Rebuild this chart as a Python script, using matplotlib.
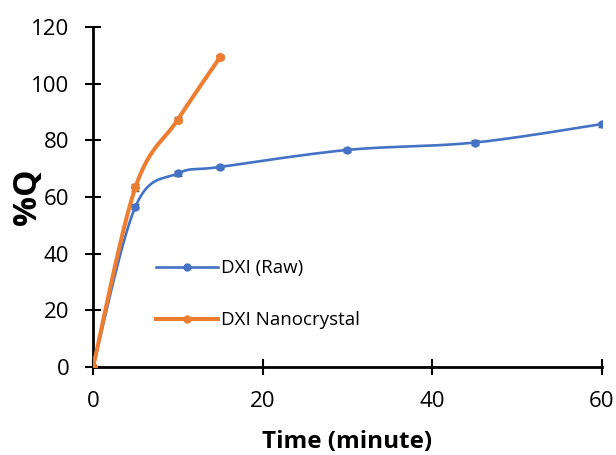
import numpy as np
import matplotlib
matplotlib.use("Agg")
import matplotlib.pyplot as plt

# release data
time_raw = [0, 5, 10, 15, 30, 45, 60]
q_raw = [0, 56.6, 68.3, 70.6, 76.6, 79.2, 85.7]
err_raw = [0, 1.0, 0.8, 0.7, 0.6, 0.8, 0.9]

time_nano = [0, 5, 10, 15]
q_nano = [0, 63.4, 87.3, 109.4]
err_nano = [0, 1.2, 0.9, 0.8]

plt.rcParams['font.family'] = ['Open Sans', 'DejaVu Sans']

fig = plt.figure(figsize=(6.16, 4.55), dpi=100)
ax = fig.add_axes([0.151, 0.193, 0.826, 0.748])
ax.set_xlim(0, 60)
ax.set_ylim(0, 120)

# pixel scale used for the excel-like smoothing
sx = 509 / 60.0
sy = 340 / 120.0


def smooth(xs, ys, n=30):
    """Excel-style smoothed line (cardinal bezier through the points)"""
    p = np.column_stack([np.array(xs) * sx, np.array(ys) * sy])
    out = [p[0]]
    for i in range(len(p) - 1):
        p0 = p[i - 1] if i > 0 else p[i]
        p1 = p[i]
        p2 = p[i + 1]
        p3 = p[i + 2] if i + 2 < len(p) else p[i + 1]
        c1 = p1 + (p2 - p0) / 6.0
        c2 = p2 - (p3 - p1) / 6.0
        t = np.linspace(0, 1, n)[1:, None]
        seg = ((1 - t) ** 3) * p1 + 3 * ((1 - t) ** 2) * t * c1 + 3 * (1 - t) * t ** 2 * c2 + t ** 3 * p2
        out.extend(seg)
    out = np.array(out)
    return out[:, 0] / sx, out[:, 1] / sy


blue = '#4472C4'
orange = '#ED7D31'

bx, by = smooth(time_raw, q_raw)
ax.plot(bx, by, color=blue, lw=1.9, zorder=3, solid_capstyle='round')
ax.errorbar(time_raw, q_raw, yerr=err_raw, fmt='none', ecolor='#595959',
            elinewidth=1, capsize=3, zorder=2)
ax.plot(time_raw, q_raw, 'o', color=blue, ms=5, zorder=4)

ox, oy = smooth(time_nano, q_nano)
ax.plot(ox, oy, color=orange, lw=2.9, zorder=3, solid_capstyle='round')
ax.errorbar(time_nano, q_nano, yerr=err_nano, fmt='none', ecolor='#595959',
            elinewidth=1, capsize=3, zorder=2)
ax.plot(time_nano, q_nano, 'o', color=orange, ms=5.5, zorder=4)

# legend handles
ax.plot([], [], '-o', color=blue, lw=1.9, ms=5, label='DXI (Raw)')
ax.plot([], [], '-o', color=orange, lw=2.9, ms=5, label='DXI Nanocrystal')
h, l = ax.get_legend_handles_labels()
ax.legend(h[-2:], l[-2:], loc='upper left', bbox_to_anchor=(0.253, 0.43),
          bbox_transform=fig.transFigure, frameon=False, fontsize=13.5,
          handlelength=3.3, handletextpad=0.2, labelspacing=1.82,
          borderpad=0, borderaxespad=0)

for s in ['top', 'right']:
    ax.spines[s].set_visible(False)
for s in ['left', 'bottom']:
    ax.spines[s].set_linewidth(2)
    ax.spines[s].set_color('black')

ax.set_xticks([0, 20, 40, 60])
ax.set_yticks(range(0, 121, 20))
ax.tick_params(direction='inout', length=11, width=1.5, labelsize=16, pad=11.5)

ax.set_xlabel('Time (minute)', fontsize=17.5, fontweight='bold', labelpad=13)
ax.set_ylabel('%Q', fontsize=24, fontweight='bold', labelpad=-9)

fig.savefig('out.png', dpi=100)
